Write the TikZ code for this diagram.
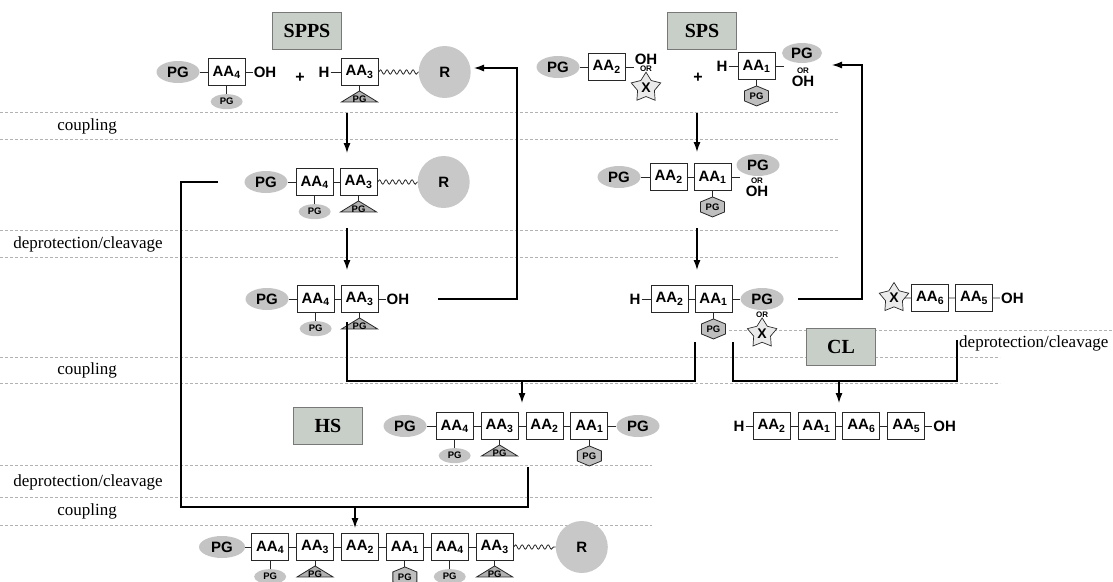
\documentclass[tikz,border=0pt]{standalone}
\usepackage{fontspec}
\setmainfont{Liberation Serif}
\setsansfont{Liberation Sans}
\usetikzlibrary{arrows.meta}
\usetikzlibrary{positioning}
\usetikzlibrary{shapes.geometric}
\usetikzlibrary{decorations.pathmorphing}

\definecolor{pgfill}{RGB}{196,196,196}
\definecolor{resinfill}{RGB}{200,200,200}
\definecolor{trifill}{RGB}{176,176,176}
\definecolor{hexfill}{RGB}{190,190,190}
\definecolor{starfill}{RGB}{234,234,234}
\definecolor{stagefill}{RGB}{200,206,200}
\definecolor{stageline}{RGB}{120,120,120}
\definecolor{sepline}{RGB}{178,178,178}
\definecolor{ink}{RGB}{40,40,40}

\newcommand{\res}[1]{AA\textsubscript{#1}}

\begin{document}
\begin{tikzpicture}[x=1pt, y=1pt, node distance=7pt,
    >={Latex[length=10pt,width=7pt]},
    aa/.style={rectangle, draw=ink, line width=0.9pt, fill=white, minimum width=37pt, minimum height=27pt, inner sep=0pt, font=\sffamily\bfseries\fontsize{15}{15}\selectfont},
    pg/.style={ellipse, fill=pgfill, minimum width=43pt, minimum height=22pt, inner sep=0pt, font=\sffamily\bfseries\fontsize{15}{15}\selectfont},
    pgs/.style={ellipse, fill=pgfill, minimum width=32pt, minimum height=15pt, inner sep=0pt, font=\sffamily\bfseries\fontsize{9.5}{9.5}\selectfont},
    pgtxt/.style={inner sep=0pt, font=\sffamily\bfseries\fontsize{9.5}{9.5}\selectfont},
    tx/.style={inner sep=1pt, font=\sffamily\bfseries\fontsize{15}{15}\selectfont},
    ortx/.style={inner sep=0.5pt, font=\sffamily\bfseries\fontsize{8}{8}\selectfont},
    resin/.style={circle, fill=resinfill, minimum size=52pt, inner sep=0pt, font=\sffamily\bfseries\fontsize{15}{15}\selectfont},
    xstar/.style={star, star points=5, star point ratio=1.75, minimum size=31pt, inner sep=0pt, draw=ink, line width=0.7pt, fill=starfill, font=\sffamily\bfseries\fontsize{14}{14}\selectfont},
    stage/.style={rectangle, draw=stageline, line width=1pt, fill=stagefill, minimum width=69pt, minimum height=37pt, font=\bfseries\fontsize{20}{20}\selectfont},
    steplbl/.style={inner sep=0pt, font=\fontsize{17}{17}\selectfont},
    sep/.style={draw=sepline, line width=0.8pt, dash pattern=on 3pt off 2pt},
    bond/.style={draw=ink, line width=0.9pt},
    wave/.style={draw=ink, line width=0.8pt, decorate, decoration={snake, amplitude=2.2pt, segment length=6.5pt}},
    flow/.style={draw=black, line width=1.2pt},
    tripg/.style={draw=ink, line width=0.8pt, fill=trifill},
    hexpg/.style={draw=ink, line width=0.8pt, fill=hexfill}]
\useasboundingbox (0,0) rectangle (1113,-581);

% side-chain protecting groups
\newcommand{\pgoval}[1]{%
  \node[pgs, below=8pt of #1] (#1pg) {PG};
  \draw[bond] (#1.south) -- (#1pg.north);}
\newcommand{\pgtri}[1]{%
  \draw[bond] (#1.south) -- ++(0,-5);
  \draw[tripg] (#1.south) ++(0,-5) -- ++(18,-11) -- ++(-36,0) -- cycle;
  \path (#1.south) ++(0,-13) node[pgtxt] (#1pg) {PG};}
\newcommand{\pghex}[1]{%
  \draw[bond] (#1.south) -- ++(0,-6);
  \draw[hexpg] (#1.south) ++(0,-6) -- ++(12,-5) -- ++(0,-10) -- ++(-12,-5) -- ++(-12,5) -- ++(0,10) -- cycle;
  \path (#1.south) ++(0,-16) node[pgtxt] (#1pg) {PG};}

% step separators
\foreach \y/\xa/\xb in {112/0/838, 139/0/838, 230/0/838, 257/0/838, 330/729/1113,
                        357/0/1000, 383/0/1000, 465/0/652, 497/0/652, 525/0/652}
  \draw[sep] (\xa,-\y) -- (\xb,-\y);

\node[steplbl] (lbcpl1) at (87,-126) {coupling};
\node[steplbl] (lbdep1) at (88,-244) {deprotection/cleavage};
\node[steplbl] (lbcpl2) at (87,-370) {coupling};
\node[steplbl] (lbdep2) at (88,-482) {deprotection/cleavage};
\node[steplbl] (lbcpl3) at (87,-511) {coupling};
\node[steplbl, anchor=west] (lbdep3) at (959,-343) {deprotection/cleavage};

\node[stage] (spps) at (307,-31) {SPPS};
\node[stage] (sps)  at (702,-31) {SPS};
\node[stage] (hs)   at (328,-426) {HS};
\node[stage] (cl)   at (841,-347) {CL};

% SPPS
\node[pg] (s1pg) at (178,-72) {PG};
\node[aa, right=8pt of s1pg] (s1a4) {\res{4}};
\node[tx, right=of s1a4] (s1oh) {OH};
\node[tx, font=\sffamily\bfseries\fontsize{16}{16}\selectfont] (s1plus) at (300,-78) {+};
\node[tx] (s1h) at (324,-72) {H};
\node[aa, right=10pt of s1h] (s1a3) {\res{3}};
\node[resin, right=40pt of s1a3] (s1r) {R};
\draw[bond] (s1pg) -- (s1a4) (s1a4) -- (s1oh) (s1h) -- (s1a3);
\draw[wave] (s1a3.east) -- (s1r.west);
\pgoval{s1a4}
\pgtri{s1a3}

\node[pg] (s2pg) at (266,-182) {PG};
\node[aa, right=8pt of s2pg] (s2a4) {\res{4}};
\node[aa, right=6pt of s2a4] (s2a3) {\res{3}};
\node[resin, right=40pt of s2a3] (s2r) {R};
\draw[bond] (s2pg) -- (s2a4) (s2a4) -- (s2a3);
\draw[wave] (s2a3.east) -- (s2r.west);
\pgoval{s2a4}
\pgtri{s2a3}

\node[pg] (s3pg) at (267,-299) {PG};
\node[aa, right=8pt of s3pg] (s3a4) {\res{4}};
\node[aa, right=6pt of s3a4] (s3a3) {\res{3}};
\node[tx, right=of s3a3] (s3oh) {OH};
\draw[bond] (s3pg) -- (s3a4) (s3a4) -- (s3a3) (s3a3) -- (s3oh);
\pgoval{s3a4}
\pgtri{s3a3}

% SPS
\node[pg] (p1pg) at (558,-67) {PG};
\node[aa, right=8pt of p1pg] (p1a2) {\res{2}};
\node[ortx] (p1or) at (646,-69) {OR};
\node[tx, above=0pt of p1or] (p1oh) {OH};
\node[xstar, below=-1pt of p1or] (p1x) {X};
\draw[bond] (p1pg) -- (p1a2) (p1a2.east) -- ++(8,0);
\node[tx, font=\sffamily\bfseries\fontsize{16}{16}\selectfont] (p1plus) at (698,-78) {+};
\node[tx] (p1h) at (722,-66) {H};
\node[aa, right=9pt of p1h] (p1a1) {\res{1}};
\node[pg, minimum width=40pt, minimum height=20pt] (p1pgc) at (802,-53) {PG};
\node[ortx] (p1orc) at (803,-71) {OR};
\node[tx, below=0pt of p1orc] (p1ohc) {OH};
\draw[bond] (p1h) -- (p1a1) (p1a1.east) -- ++(8,0);
\pghex{p1a1}

\node[pg] (p2pg) at (619,-177) {PG};
\node[aa, right=9pt of p2pg] (p2a2) {\res{2}};
\node[aa, right=6pt of p2a2] (p2a1) {\res{1}};
\node[pg] (p2pgc) at (758,-165) {PG};
\node[ortx] (p2orc) at (757,-181) {OR};
\node[tx, below=0pt of p2orc] (p2ohc) {OH};
\draw[bond] (p2pg) -- (p2a2) (p2a2) -- (p2a1) (p2a1.east) -- ++(8,0);
\pghex{p2a1}

\node[tx] (p3h) at (635,-299) {H};
\node[aa, right=9pt of p3h] (p3a2) {\res{2}};
\node[aa, right=6pt of p3a2] (p3a1) {\res{1}};
\node[pg, right=8pt of p3a1] (p3pgc) {PG};
\node[ortx, below=1pt of p3pgc] (p3orc) {OR};
\node[xstar, below=-1pt of p3orc] (p3x) {X};
\draw[bond] (p3h) -- (p3a2) (p3a2) -- (p3a1) (p3a1) -- (p3pgc);
\pghex{p3a1}

\node[xstar] (c0x) at (894,-298) {X};
\node[aa, right=6pt of c0x] (c0a6) {\res{6}};
\node[aa, right=6pt of c0a6] (c0a5) {\res{5}};
\node[tx, right=of c0a5] (c0oh) {OH};
\draw[bond] (c0x) -- (c0a6) (c0a6) -- (c0a5) (c0a5) -- (c0oh);

% HS
\node[pg] (h0pg) at (405,-426) {PG};
\node[aa, right=9pt of h0pg] (h0a4) {\res{4}};
\node[aa, right=7pt of h0a4] (h0a3) {\res{3}};
\node[aa, right=7pt of h0a3] (h0a2) {\res{2}};
\node[aa, right=7pt of h0a2] (h0a1) {\res{1}};
\node[pg, right=8pt of h0a1] (h0pgc) {PG};
\draw[bond] (h0pg) -- (h0a4) (h0a4) -- (h0a3) (h0a3) -- (h0a2) (h0a2) -- (h0a1) (h0a1) -- (h0pgc);
\pgoval{h0a4}
\pgtri{h0a3}
\pghex{h0a1}

% CL
\node[tx] (c1h) at (739,-426) {H};
\node[aa, right=7pt of c1h] (c1a2) {\res{2}};
\node[aa, right=7pt of c1a2] (c1a1) {\res{1}};
\node[aa, right=7pt of c1a1] (c1a6) {\res{6}};
\node[aa, right=7pt of c1a6] (c1a5) {\res{5}};
\node[tx, right=of c1a5] (c1oh) {OH};
\draw[bond] (c1h) -- (c1a2) (c1a2) -- (c1a1) (c1a1) -- (c1a6) (c1a6) -- (c1a5) (c1a5) -- (c1oh);

% final product
\node[pg, minimum width=46pt] (b0pg) at (222,-547) {PG};
\node[aa, right=6pt of b0pg] (b0a4) {\res{4}};
\node[aa, right=7pt of b0a4] (b0a3) {\res{3}};
\node[aa, right=7pt of b0a3] (b0a2) {\res{2}};
\node[aa, right=7pt of b0a2] (b0a1) {\res{1}};
\node[aa, right=7pt of b0a1] (b0a4b) {\res{4}};
\node[aa, right=7pt of b0a4b] (b0a3b) {\res{3}};
\node[resin, right=42pt of b0a3b] (b0r) {R};
\draw[bond] (b0pg) -- (b0a4) (b0a4) -- (b0a3) (b0a3) -- (b0a2) (b0a2) -- (b0a1) (b0a1) -- (b0a4b) (b0a4b) -- (b0a3b);
\draw[wave] (b0a3b.east) -- (b0r.west);
\pgoval{b0a4}
\pgtri{b0a3}
\pghex{b0a1}
\pgoval{b0a4b}
\pgtri{b0a3b}

% flow connectors
\coordinate (sppsc1) at (347,-113);  \coordinate (sppsc2) at (347,-153);
\coordinate (sppsd1) at (347,-228);  \coordinate (sppsd2) at (347,-270);
\coordinate (sppsret) at (438,-299); \coordinate (sppsup) at (517,-68);
\coordinate (sppstip) at (474,-68);
\coordinate (spsc1) at (697,-113);   \coordinate (spsc2) at (697,-152);
\coordinate (spsd1) at (697,-228);   \coordinate (spsd2) at (697,-270);
\coordinate (spsret) at (798,-299);  \coordinate (spsup) at (862,-65);
\coordinate (spstip) at (832,-65);
\coordinate (hsin) at (218,-182);    \coordinate (hsleft) at (181,-507);
\coordinate (hsright) at (528,-507); \coordinate (hsout) at (528,-467);
\coordinate (hsdrop) at (355,-507);  \coordinate (hsend) at (355,-528);
\coordinate (cpla) at (347,-322);    \coordinate (cplb) at (695,-381);
\coordinate (cplc) at (695,-342);    \coordinate (cpldrop) at (522,-381);
\coordinate (cplend) at (522,-403);
\coordinate (cla) at (733,-342);     \coordinate (clb) at (957,-381);
\coordinate (clc) at (957,-340);     \coordinate (cldrop) at (839,-381);
\coordinate (clend) at (839,-403);

\draw[flow,->] (sppsc1) -- (sppsc2);
\draw[flow,->] (sppsd1) -- (sppsd2);
\draw[flow,->] (sppsret) -| (sppsup) -- (sppstip);
\draw[flow,->] (spsc1) -- (spsc2);
\draw[flow,->] (spsd1) -- (spsd2);
\draw[flow,->] (spsret) -| (spsup) -- (spstip);
\draw[flow] (hsin) -| (hsleft) -- (hsright) -- (hsout);
\draw[flow,->] (hsdrop) -- (hsend);
\draw[flow] (cpla) |- (cplb) -- (cplc);
\draw[flow,->] (cpldrop) -- (cplend);
\draw[flow] (cla) |- (clb) -- (clc);
\draw[flow,->] (cldrop) -- (clend);
\end{tikzpicture}
\end{document}
